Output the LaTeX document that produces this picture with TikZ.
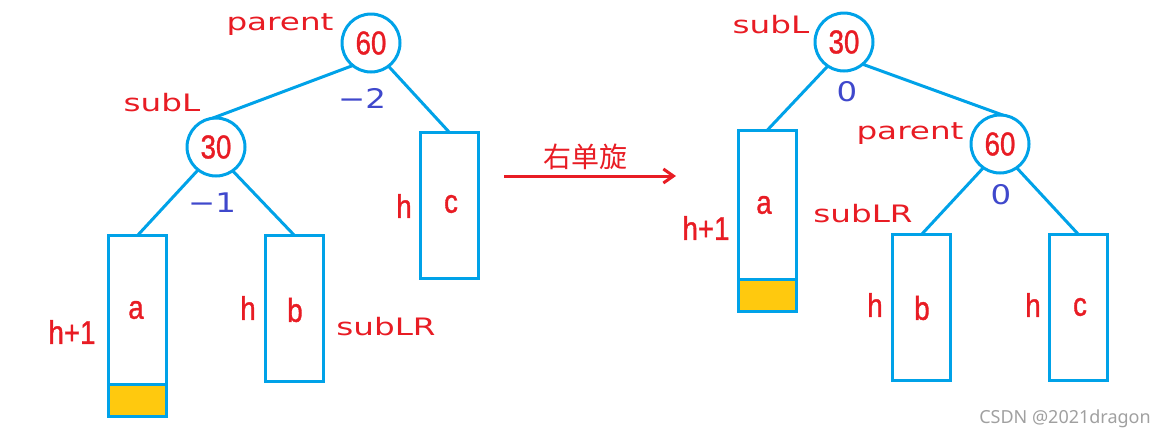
\documentclass[tikz,border=0pt]{standalone}
\usepackage{fontspec}
\usepackage{graphicx}
\setmainfont{Liberation Sans}
\newfontfamily\lfont[FakeBold=1.2]{Liberation Sans}
\newfontfamily\wfont{DejaVu Sans}
\newfontfamily\cjk{Noto Sans CJK SC}
\newfontfamily\wmfont{Noto Sans}
\usetikzlibrary{arrows.meta}
\definecolor{tred}{RGB}{232,28,36}
\definecolor{tblue}{RGB}{0,162,232}
\definecolor{tpurple}{RGB}{63,72,204}
\definecolor{tyellow}{RGB}{255,201,14}
\definecolor{wmgrey}{RGB}{160,160,160}
\newcommand{\widetxt}[1]{\scalebox{1.36}[1]{#1}}
\newcommand{\narrowtxt}[1]{\scalebox{0.84}[1]{#1}}
\begin{document}
\begin{tikzpicture}[x=1pt,y=-1pt,
  circ/.style={circle,draw=tblue,line width=3pt,minimum size=58pt,inner sep=0pt,outer sep=0pt,text=tred,font=\lfont\fontsize{33}{33}\selectfont},
  tbox/.style={rectangle,draw=tblue,line width=3pt,minimum width=58pt,inner sep=0pt,outer sep=0pt},
  conn/.style={draw=tblue,line width=3pt},
  yel/.style={fill=tyellow,draw=tblue,line width=3pt},
  lbl/.style={text=tred,font=\lfont\fontsize{33}{33}\selectfont,inner sep=0pt},
  nm/.style={text=tred,font=\wfont\fontsize{24}{24}\selectfont,inner sep=0pt},
  bf/.style={text=tpurple,font=\wfont\fontsize{27}{27}\selectfont,inner sep=0pt},
]
\useasboundingbox (0,0) rectangle (1170,440);

% ---------- left tree ----------
\node[circ] (l60) at (371,43) {\narrowtxt{60}};
\node[circ] (l30) at (216,147) {\narrowtxt{30}};
\node[tbox,minimum height=181pt] (la) at (137.5,326) {};
\node[tbox,minimum height=146pt] (lb) at (294.5,308.5) {};
\node[tbox,minimum height=146pt] (lc) at (449.5,205.5) {};
\filldraw[yel] (la.south west) rectangle ([yshift=32pt]la.south east);

\draw[conn] (l60.231) -- (l30.97);
\draw[conn] (l60.307) -- (lc.north);
\draw[conn] (l30.232) -- (la.north);
\draw[conn] (l30.305) -- (lb.north);

\node[nm] (lparent) at (280,25) {\widetxt{parent}};
\node[nm] (lsubL) at (162,103) {\widetxt{subL}};
\node[bf] (lbf60) at (362,98) {\scalebox{1.2}[1]{−2}};
\node[bf] (lbf30) at (212,203) {\scalebox{1.2}[1]{−1}};
\node[lbl] (lhc) at (404,206) {\narrowtxt{h}};
\node[lbl] (lcl) at (451,204) {\narrowtxt{c}};
\node[lbl] (lha) at (72,332) {\narrowtxt{h+1}};
\node[lbl] (lal) at (136,310) {\narrowtxt{a}};
\node[lbl] (lhb) at (248,308) {\narrowtxt{h}};
\node[lbl] (lbl) at (295,310) {\narrowtxt{b}};
\node[nm] (lsubLR) at (386,327) {\widetxt{subLR}};

% ---------- arrow ----------
\coordinate (arS) at (504,176);
\coordinate (arE) at (676,176);
\draw[tred,line width=3pt,-{Straight Barb[length=10pt,width=14pt]}] (arS) -- (arE);
\node[text=tred,font=\cjk\fontsize{28}{28}\selectfont,inner sep=0pt] (rot) at (585,157) {右单旋};

% ---------- right tree ----------
\node[circ] (r30) at (844,42) {\narrowtxt{30}};
\node[circ] (r60) at (1000,144) {\narrowtxt{60}};
\node[tbox,minimum height=181pt] (ra) at (767,221) {};
\node[tbox,minimum height=146pt] (rb) at (921.5,307.5) {};
\node[tbox,minimum height=146pt] (rc) at (1078.5,307.5) {};
\filldraw[yel] (ra.south west) rectangle ([yshift=32pt]ra.south east);

\draw[conn] (r30.236) -- (ra.north);
\draw[conn] (r30.310) -- (r60.84);
\draw[conn] (r60.235) -- (rb.north);
\draw[conn] (r60.305) -- (rc.north);

\node[nm] (rsubL) at (771,25) {\widetxt{subL}};
\node[bf] (rbf30) at (847,92) {\scalebox{1.2}[1]{0}};
\node[nm] (rparent) at (910,134) {\widetxt{parent}};
\node[bf] (rbf60) at (1001,195) {\scalebox{1.2}[1]{0}};
\node[lbl] (rha) at (706,228) {\narrowtxt{h+1}};
\node[lbl] (ral) at (764,205) {\narrowtxt{a}};
\node[nm] (rsubLR) at (863,214) {\widetxt{subLR}};
\node[lbl] (rhb) at (875,305) {\narrowtxt{h}};
\node[lbl] (rbl) at (922,308) {\narrowtxt{b}};
\node[lbl] (rhc) at (1033,305) {\narrowtxt{h}};
\node[lbl] (rcl) at (1080,307) {\narrowtxt{c}};

\node[text=wmgrey,font=\wmfont\fontsize{18}{18}\selectfont,inner sep=0pt] (wm) at (1065,419) {CSDN @2021dragon};
\end{tikzpicture}
\end{document}
